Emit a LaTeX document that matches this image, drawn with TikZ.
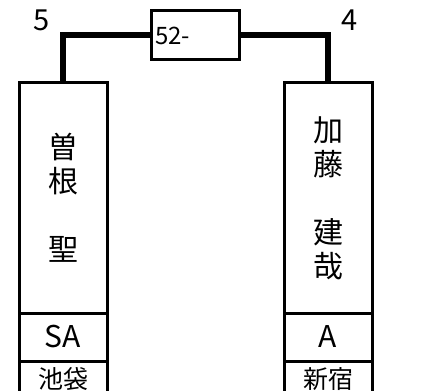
\documentclass[tikz,border=0pt]{standalone}
\usepackage{fontspec}
\setmainfont{Noto Sans CJK JP}
\usetikzlibrary{positioning}

\begin{document}
\begin{tikzpicture}[x=1pt, y=-1pt,
  cell/.style={draw, line width=3pt, outer sep=0pt, inner sep=0pt, minimum width=88pt},
  namecell/.style={cell, minimum height=230pt, align=center, font=\fontsize{30}{34}\selectfont},
  rankcell/.style={cell, minimum height=48pt, font=\fontsize{30}{34}\selectfont},
  placecell/.style={cell, minimum height=40pt, font=\fontsize{25}{28}\selectfont},
  link/.style={line width=6pt}]
\clip (0,0) rectangle (430,390);

\node[cell, minimum height=49pt, text width=80pt, font=\fontsize{24}{28}\selectfont] (score) at (195,35.5) {52-};

\node[namecell] (lname) at (63,198) {曽\\根\\[34pt]聖};
\node[rankcell, below=0pt of lname] (lrank) {SA};
\node[placecell, below=0pt of lrank] (lplace) {\raisebox{6.5pt}{池袋}};

\node[namecell] (rname) at (328,198) {加\\藤\\[34pt]建\\哉};
\node[rankcell, below=0pt of rname] (rrank) {A};
\node[placecell, below=0pt of rrank] (rplace) {\raisebox{6.5pt}{新宿}};

\node[font=\fontsize{29}{32}\selectfont] (lpoint) at (42,20) {5};
\node[font=\fontsize{29}{32}\selectfont] (rpoint) at (350,20) {4};

\draw[link] (lname.north) |- (score.west);
\draw[link] (rname.north) |- (score.east);
\end{tikzpicture}
\end{document}
